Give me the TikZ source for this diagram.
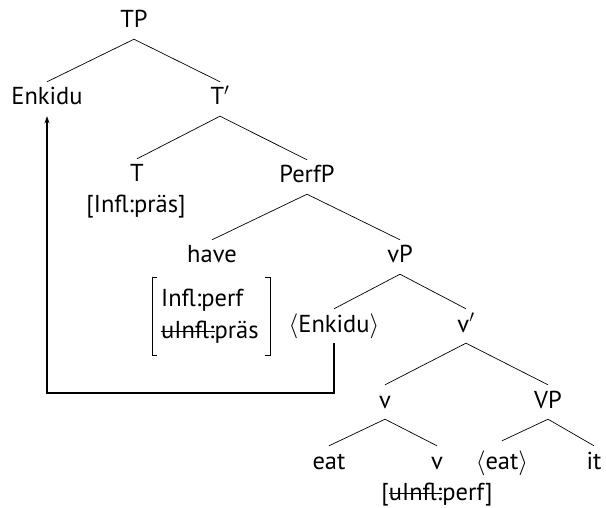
\documentclass[tikz,border=0pt]{standalone}
\usepackage{fontspec}
\setmainfont{PT Sans}
\newcommand\mystrike[1]{\setbox0\hbox{#1}\rlap{\rule[0.24em]{\wd0}{1.4pt}}\box0}
\usetikzlibrary{arrows.meta}
\begin{document}
\begin{tikzpicture}[x=1pt,y=-1pt,
  tn/.style={inner xsep=0pt, inner ysep=6pt, text height=17pt, text depth=5pt, anchor=base, font=\fontsize{24.5}{28}\selectfont},
  ft/.style={inner sep=0pt, anchor=base, font=\fontsize{24.5}{28}\selectfont},
  br/.style={line width=1pt},
  edge/.style={line width=0.7pt},
  mv/.style={line width=1.4pt, -{Stealth[length=7pt,width=5pt]}}]
\useasboundingbox (0,0) rectangle (606,508);
\node[tn] (TP) at (134,28) {TP};
\node[tn] (Enkidu) at (47,105) {Enkidu};
\node[tn] (Tbar) at (220,105) {T$'$};
\node[tn] (T) at (137,182) {T};
\node[ft] (Tfeat) at (136,213) {[Infl:präs]};
\node[tn] (PerfP) at (307,183) {PerfP};
\node[tn] (have) at (212,263) {have};
\node[ft, anchor=base west] (f1) at (161,307) {Infl:perf};
\node[ft, anchor=base west] (f2) at (161,338) {\mystrike{uInfl:}präs};
\draw[br] (157,278) -- (152,278) -- (152,355) -- (157,355);
\draw[br] (265,278) -- (270,278) -- (270,355) -- (265,355);
\node[tn] (vP) at (400,263) {vP};
\node[tn] (Enk2) at (334,332) {$\langle$Enkidu$\rangle$};
\node[tn] (vbar) at (466,332) {v$'$};
\node[tn] (v) at (385,408) {v};
\node[tn] (VP) at (548,408) {VP};
\node[tn] (eat) at (329,469) {eat};
\node[tn] (vv) at (437,469) {v};
\node[ft] (vfeat) at (437,500) {[\mystrike{uInfl:}perf]};
\node[tn, text height=22pt] (eat2) at (502,469) {$\langle$eat$\rangle$};
\node[tn] (it) at (594,469) {it};
\draw[edge] (TP.south) -- (Enkidu.north);
\draw[edge] (TP.south) -- (Tbar.north);
\draw[edge] (Tbar.south) -- (T.north);
\draw[edge] (Tbar.south) -- (PerfP.north);
\draw[edge] (PerfP.south) -- (have.north);
\draw[edge] (PerfP.south) -- (vP.north);
\draw[edge] (vP.south) -- (Enk2.north);
\draw[edge] (vP.south) -- (vbar.north);
\draw[edge] (vbar.south) -- (v.north);
\draw[edge] (vbar.south) -- (VP.north);
\draw[edge] (v.south) -- (eat.north);
\draw[edge] (v.south) -- (vv.north);
\draw[edge] (VP.south) -- (eat2.north);
\draw[edge] (VP.south) -- (it.north);
\coordinate (bend) at (334,393);
\draw[mv] (Enk2.south) -- (bend) -| (Enkidu.south);
\end{tikzpicture}
\end{document}
